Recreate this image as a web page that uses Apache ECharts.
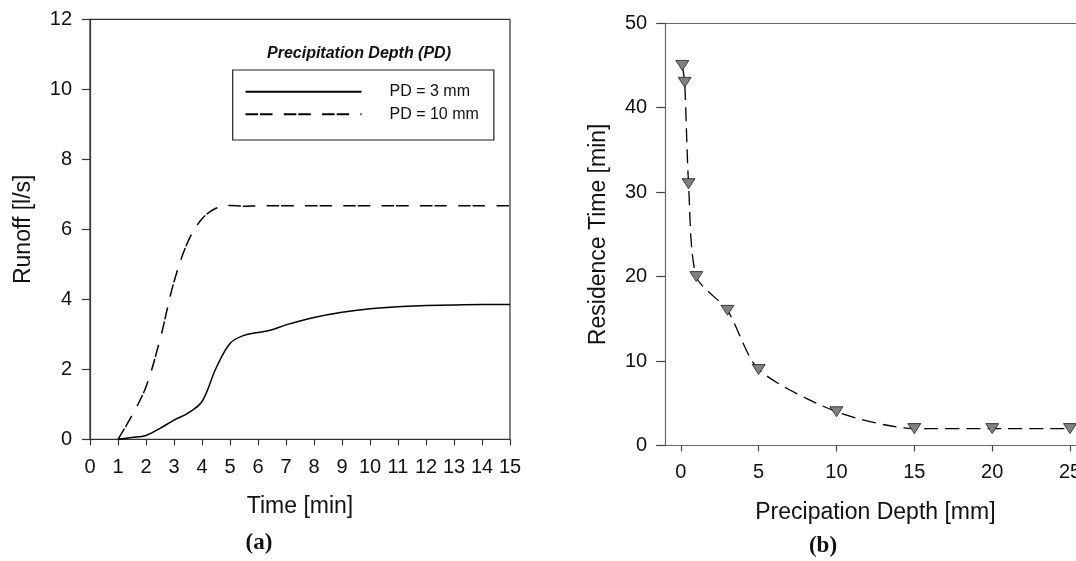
<!DOCTYPE html>
<html>
<head>
<meta charset="utf-8">
<script src="https://cdn.jsdelivr.net/npm/echarts@6/dist/echarts.min.js"></script>
<style>
html,body{margin:0;padding:0;background:#fff;}
#chart{width:1076px;height:561px;}
</style>
</head>
<body>
<div id="chart"></div>
<script>
// ---- Data ----
const timeMin = [1, 1.5, 2, 2.5, 3, 3.5, 4, 4.5, 5, 5.5, 6, 6.5, 7, 8, 9, 10, 11, 12, 13, 14, 15];
const runoffPD3 = [0, 0.05, 0.11, 0.31, 0.55, 0.75, 1.08, 2.03, 2.74, 2.97, 3.05, 3.13, 3.27, 3.48, 3.63, 3.73, 3.79, 3.82, 3.84, 3.85, 3.85];
const runoffPD10 = [0, 0.68, 1.5, 2.85, 4.5, 5.65, 6.3, 6.6, 6.68, 6.66, 6.67, 6.67, 6.67, 6.67, 6.67, 6.67, 6.67, 6.67, 6.67, 6.67, 6.67];
const seriesNames = ['PD = 3 mm', 'PD = 10 mm'];

const depthMM = [0.1, 0.25, 0.5, 1, 3, 5, 10, 15, 20, 25];
const residenceMin = [45, 43, 31, 20, 16, 9, 4, 2, 2, 2];

const depthTicks = [0, 5, 10, 15, 20, 25];

// ---- Helpers ----
const zip = (xs, ys) => xs.map((x, i) => [x, ys[i]]);
const FONT = '"Liberation Sans", Arial, sans-serif';
const TXT = '#111';

const chart = echarts.init(document.getElementById('chart'), null, {renderer: 'canvas'});

const DEPTH_MIN = -1, DEPTH_MAX = 26;

const option = {
  backgroundColor: '#fff',
  animation: false,
  textStyle: {fontFamily: FONT, color: TXT},
  grid: [
    {left: 90, top: 19.3, width: 420, height: 420, show: true, borderColor: '#333', borderWidth: 1.2, containLabel: false, outerBoundsMode: 'none'},
    {left: 665.2, top: 23.2, width: 420.4, height: 422.3, show: false, containLabel: false, outerBoundsMode: 'none'}
  ],
  xAxis: [
    {
      gridIndex: 0, type: 'value', min: 0, max: 15, interval: 1,
      name: 'Time [min]', nameLocation: 'middle', nameGap: 56,
      nameTextStyle: {fontSize: 23, color: TXT, fontFamily: FONT},
      axisLine: {show: true, onZero: false, lineStyle: {color: '#333', width: 1.2}},
      axisTick: {show: true, length: 6, lineStyle: {color: '#333', width: 1.2}},
      axisLabel: {fontSize: 20, color: TXT, margin: 18, fontFamily: FONT},
      splitLine: {show: false}
    },
    {
      gridIndex: 1, type: 'value', min: DEPTH_MIN, max: DEPTH_MAX,
      name: 'Precipation Depth [mm]', nameLocation: 'middle', nameGap: 56,
      nameTextStyle: {fontSize: 23, color: TXT, fontFamily: FONT},
      axisLine: {show: true, onZero: false, lineStyle: {color: '#666', width: 1.2}},
      axisTick: {show: true, length: 6, customValues: depthTicks, lineStyle: {color: '#444', width: 1.2}},
      axisLabel: {fontSize: 20, color: TXT, margin: 17, customValues: depthTicks, fontFamily: FONT},
      splitLine: {show: false}
    },
    {
      gridIndex: 1, type: 'value', position: 'top', min: DEPTH_MIN, max: DEPTH_MAX,
      axisLine: {show: true, onZero: false, lineStyle: {color: '#666', width: 1.2}},
      axisTick: {show: false}, axisLabel: {show: false}, splitLine: {show: false}
    }
  ],
  yAxis: [
    {
      gridIndex: 0, type: 'value', min: 0, max: 12, interval: 2,
      name: 'Runoff [l/s]', nameLocation: 'middle', nameGap: 55,
      nameTextStyle: {fontSize: 23, color: TXT, fontFamily: FONT},
      axisLine: {show: true, onZero: false, lineStyle: {color: '#333', width: 1.2}},
      axisTick: {show: true, length: 8, lineStyle: {color: '#333', width: 1.2}},
      axisLabel: {fontSize: 20, color: TXT, margin: 18, fontFamily: FONT},
      splitLine: {show: false}
    },
    {
      gridIndex: 1, type: 'value', min: 0, max: 50, interval: 10,
      name: 'Residence Time [min]', nameLocation: 'middle', nameGap: 55,
      nameTextStyle: {fontSize: 23, color: TXT, fontFamily: FONT},
      axisLine: {show: true, onZero: false, lineStyle: {color: '#666', width: 1.2}},
      axisTick: {show: true, length: 9, lineStyle: {color: '#444', width: 1.2}},
      axisLabel: {fontSize: 20, color: TXT, margin: 18, fontFamily: FONT},
      splitLine: {show: false}
    }
  ],
  legend: {
    data: seriesNames,
    orient: 'vertical',
    left: 232.7, top: 70,
    padding: [13.7, 15, 17.7, 11.8],
    itemWidth: 116, itemHeight: 1, itemGap: 6.6,
    borderColor: '#222', borderWidth: 1.2,
    backgroundColor: '#fff',
    selectedMode: false,
    itemStyle: {opacity: 0, borderWidth: 0},
    textStyle: {fontSize: 16, lineHeight: 16, color: TXT, fontFamily: FONT, padding: [0, 0, 0, 23]}
  },
  graphic: [
    {type: 'text', x: 359, y: 54, style: {text: 'Precipitation Depth (PD)', font: 'italic bold 16px "Liberation Sans", Arial, sans-serif', fill: TXT, textAlign: 'center', textVerticalAlign: 'middle'}},
    {type: 'text', x: 259, y: 543, style: {text: '(a)', font: 'bold 23px "Liberation Serif", "Times New Roman", serif', fill: TXT, textAlign: 'center', textVerticalAlign: 'middle'}},
    {type: 'text', x: 823, y: 546, style: {text: '(b)', font: 'bold 23px "Liberation Serif", "Times New Roman", serif', fill: TXT, textAlign: 'center', textVerticalAlign: 'middle'}}
  ],
  series: [
    {
      name: seriesNames[0], type: 'line', xAxisIndex: 0, yAxisIndex: 0,
      data: zip(timeMin, runoffPD3), smooth: 0.35, symbol: 'none',
      lineStyle: {color: '#000', width: 1.5, type: 'solid'},
      itemStyle: {color: '#000'}
    },
    {
      name: seriesNames[1], type: 'line', xAxisIndex: 0, yAxisIndex: 0,
      data: zip(timeMin, runoffPD10), smooth: 0.35, symbol: 'none',
      lineStyle: {color: '#000', width: 1.5, type: [12.5, 2, 12.5, 11.3]},
      itemStyle: {color: '#000'}
    },
    {
      name: 'Residence Time', type: 'line', xAxisIndex: 1, yAxisIndex: 1,
      data: zip(depthMM, residenceMin), smooth: 0.25, clip: false,
      symbol: 'triangle', symbolSize: [13, 10], symbolRotate: 180, showSymbol: true,
      lineStyle: {color: '#000', width: 1.3, type: [14, 7]},
      itemStyle: {color: '#808080', borderColor: '#222', borderWidth: 0.8},
      z: 3
    }
  ]
};

chart.setOption(option);
</script>
</body>
</html>
